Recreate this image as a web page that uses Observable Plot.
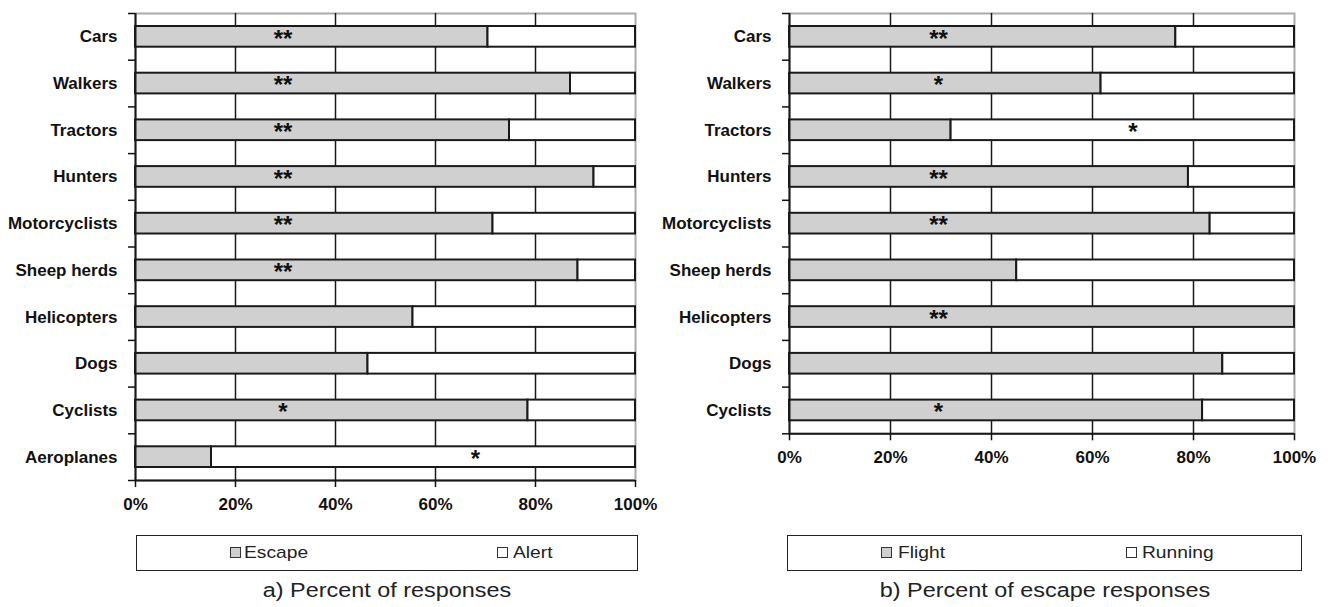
<!DOCTYPE html>
<html><head><meta charset="utf-8">
<script src="https://cdn.jsdelivr.net/npm/d3@7"></script>
<script src="https://cdn.jsdelivr.net/npm/@observablehq/plot@0.6"></script>
<style>
body{margin:0;background:#fff;font-family:"Liberation Sans",Arial,sans-serif;}
#wrap{position:relative;width:1335px;height:607px;overflow:hidden;background:#fff;}
.plot{position:absolute;top:0;}
.legend{position:absolute;border:1.5px solid #222;box-sizing:border-box;}
.sw{position:absolute;width:11px;height:11px;border:1.5px solid #333;box-sizing:border-box;}
.lt{position:absolute;font-size:17px;line-height:17px;color:#222;white-space:nowrap;transform:scaleX(1.13);transform-origin:left center;}
.cap{position:absolute;font-size:20px;line-height:20px;color:#222;white-space:nowrap;transform:translateX(-50%) scaleX(1.17);}
</style></head>
<body>
<div id="wrap">
  <div id="pa" class="plot" style="left:0"></div>
  <div id="pb" class="plot" style="left:660px"></div>
</div>
<script>
// ---- data ----
const leftCategories = ["Cars","Walkers","Tractors","Hunters","Motorcyclists","Sheep herds","Helicopters","Dogs","Cyclists","Aeroplanes"];
const leftEscape = [70.5, 87, 74.8, 91.7, 71.5, 88.5, 55.5, 46.5, 78.5, 15.2];
const leftAlert  = [29.5, 13, 25.2, 8.3, 28.5, 11.5, 44.5, 53.5, 21.5, 84.8];
const leftSig    = ["**","**","**","**","**","**","","","*","*"];
const leftSigIn  = ["Escape","Escape","Escape","Escape","Escape","Escape","","","Escape","Alert"];

const rightCategories = ["Cars","Walkers","Tractors","Hunters","Motorcyclists","Sheep herds","Helicopters","Dogs","Cyclists"];
const rightFlight  = [76.5, 61.7, 32, 79, 83.3, 45, 100, 85.8, 81.8];
const rightRunning = [23.5, 38.3, 68, 21, 16.7, 55, 0, 14.2, 18.2];
const rightSig     = ["**","*","*","**","**","","**","","*"];
const rightSigIn   = ["Flight","Flight","Running","Flight","Flight","","Flight","","Flight"];

const xTicks = [0, 20, 40, 60, 80, 100];
const seriesLeft = ["Escape", "Alert"];
const seriesRight = ["Flight", "Running"];
const captions = ["a) Percent of responses", "b) Percent of escape responses"];

// ---- drawing ----
const BW = 46.7, TOP = 13, BOTTOM = 40;
const FONT = "'Liberation Sans', Arial, sans-serif";
const GRAY = "#d0d0d0", INK = "#1a1a1a";

function chart(cats, a, b, sig, sigIn, names, width, marginLeft, plotW) {
  const rows = cats.map((c, i) => ({cat: c, a: a[i], b: b[i]}));
  const stars = cats.map((c, i) => ({cat: c, label: sig[i], pos: sigIn[i] === names[0] ? 29.5 : 68}))
                    .filter(d => d.label);
  const last = cats[cats.length - 1];
  return Plot.plot({
    width, height: TOP + cats.length * BW + BOTTOM,
    marginLeft, marginRight: width - marginLeft - plotW, marginTop: TOP, marginBottom: BOTTOM,
    style: {fontFamily: FONT, color: "#111", background: "white", overflow: "visible"},
    x: {domain: [0, 100], label: null},
    y: {domain: cats, padding: 0, round: false, label: null},
    marks: [
      Plot.frame({stroke: "#aaa", strokeWidth: 2}),
      Plot.ruleX([20, 40, 60, 80], {stroke: INK, strokeWidth: 1.5}),
      Plot.barX(rows, {x1: 0, x2: "a", y: "cat", fill: GRAY, stroke: INK, strokeWidth: 2, insetTop: 13, insetBottom: 13}),
      Plot.barX(rows.filter(d => d.b > 0), {x1: "a", x2: d => d.a + d.b, y: "cat", fill: "white", stroke: INK, strokeWidth: 2, insetTop: 13, insetBottom: 13}),
      Plot.text(stars, {x: "pos", y: "cat", text: "label", fontSize: 24, fontWeight: "bold", fill: "#111", dy: 2}),
      Plot.ruleX([0], {stroke: INK, strokeWidth: 2}),
      Plot.ruleY([last], {stroke: INK, strokeWidth: 2, dy: BW / 2}),
      Plot.axisX({ticks: xTicks, tickFormat: d => d + "%", tickSize: 7, tickPadding: 10, fontSize: 17, fontWeight: "bold", strokeWidth: 1.5, label: null}),
      Plot.axisY({tickSize: 0, tickPadding: 18, fontSize: 17, fontWeight: "bold", label: null}),
      Plot.axisY({tickSize: 7, tickFormat: () => "", dy: -BW / 2, strokeWidth: 1.5, label: null}),
      Plot.axisY({ticks: [last], tickSize: 7, tickFormat: () => "", dy: BW / 2, strokeWidth: 1.5, label: null})
    ]
  });
}

document.getElementById("pa").append(chart(leftCategories, leftEscape, leftAlert, leftSig, leftSigIn, seriesLeft, 660, 135, 500));
document.getElementById("pb").append(chart(rightCategories, rightFlight, rightRunning, rightSig, rightSigIn, seriesRight, 675, 129, 505));

// ---- legends and captions ----
const wrap = document.getElementById("wrap");
function el(cls, style, text) {
  const d = document.createElement("div");
  d.className = cls; d.setAttribute("style", style);
  if (text) d.textContent = text;
  wrap.append(d); return d;
}
el("legend", "left:136px;top:535px;width:502px;height:36px;");
el("sw", `left:230px;top:547px;background:${GRAY};`);
el("lt", "left:244px;top:544px;", seriesLeft[0]);
el("sw", "left:497px;top:547px;background:#fff;");
el("lt", "left:513px;top:544px;", seriesLeft[1]);
el("cap", "left:387px;top:580px;", captions[0]);

el("legend", "left:787px;top:535px;width:515px;height:36px;");
el("sw", `left:881px;top:547px;background:${GRAY};`);
el("lt", "left:898px;top:544px;", seriesRight[0]);
el("sw", "left:1126px;top:547px;background:#fff;");
el("lt", "left:1142px;top:544px;", seriesRight[1]);
el("cap", "left:1045px;top:580px;", captions[1]);
</script>
</body></html>
